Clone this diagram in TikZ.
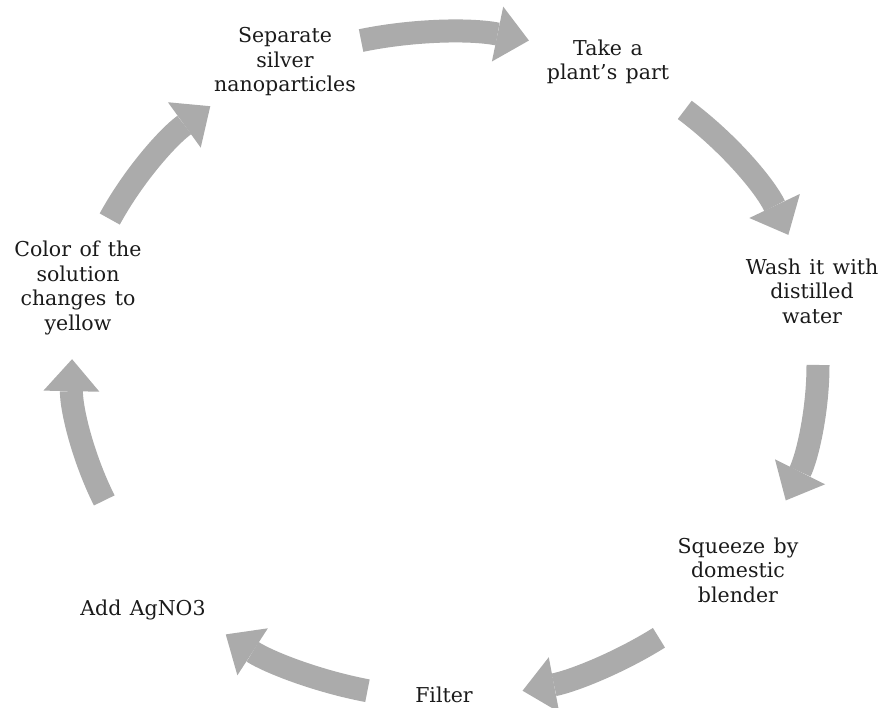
\documentclass[tikz,border=0pt]{standalone}
\usepackage{fontspec}
\setmainfont{DejaVu Serif}[WordSpace=1.3]
\usetikzlibrary{arrows.meta,calc}
\definecolor{cycgray}{HTML}{ABABAB}
\definecolor{cycink}{HTML}{1A1A1A}
\tikzset{
  lbl/.style={align=center, font=\fontsize{20.5}{24.5}\selectfont, text=cycink, inner sep=0pt},
  cyc/.style={line width=23pt, color=cycgray, -{Triangle[length=32pt, width=56pt, line width=0pt]}},
}

\begin{document}
\begin{tikzpicture}[x=1pt, y=1pt]
    \useasboundingbox (0,0) rectangle (886,708);
    \coordinate (c) at (445,343);
    \node[lbl] (sep) at (285,646) {Separate\\silver\\nanoparticles};
    \node[lbl] (take) at (608,646) {Take a\\plant’s part};
    \node[lbl] (wash) at (812,417) {Wash it with\\distilled\\water};
    \node[lbl] (sqz) at (738,138) {Squeeze by\\domestic\\blender};
    \node[lbl] (filt) at (444,13) {Filter};
    \node[lbl] (agno) at (143,98) {Add AgNO3};
    \node[lbl] (col) at (78,420) {Color of the\\solution\\changes to\\yellow};
    \coordinate (a1) at ($(c)+(103:373pt and 333pt)$);
    \coordinate (a2) at ($(c)+(50:373pt and 333pt)$);
    \coordinate (a3) at ($(c)+(0:373pt and 333pt)$);
    \coordinate (a4) at ($(c)+(-55:373pt and 333pt)$);
    \coordinate (a5) at ($(c)+(-102:373pt and 333pt)$);
    \coordinate (a6) at ($(c)+(-156:373pt and 333pt)$);
    \coordinate (a7) at ($(c)+(154:373pt and 333pt)$);
    \draw[cyc] (a1) arc[start angle=103, end angle=77, x radius=373pt, y radius=333pt];
    \draw[cyc] (a2) arc[start angle=50, end angle=23, x radius=373pt, y radius=333pt];
    \draw[cyc] (a3) arc[start angle=0, end angle=-24, x radius=373pt, y radius=333pt];
    \draw[cyc] (a4) arc[start angle=-55, end angle=-78, x radius=373pt, y radius=333pt];
    \draw[cyc] (a5) arc[start angle=-102, end angle=-126, x radius=373pt, y radius=333pt];
    \draw[cyc] (a6) arc[start angle=-156, end angle=-181, x radius=373pt, y radius=333pt];
    \draw[cyc] (a7) arc[start angle=154, end angle=129, x radius=373pt, y radius=333pt];
  \end{tikzpicture}
\end{document}
